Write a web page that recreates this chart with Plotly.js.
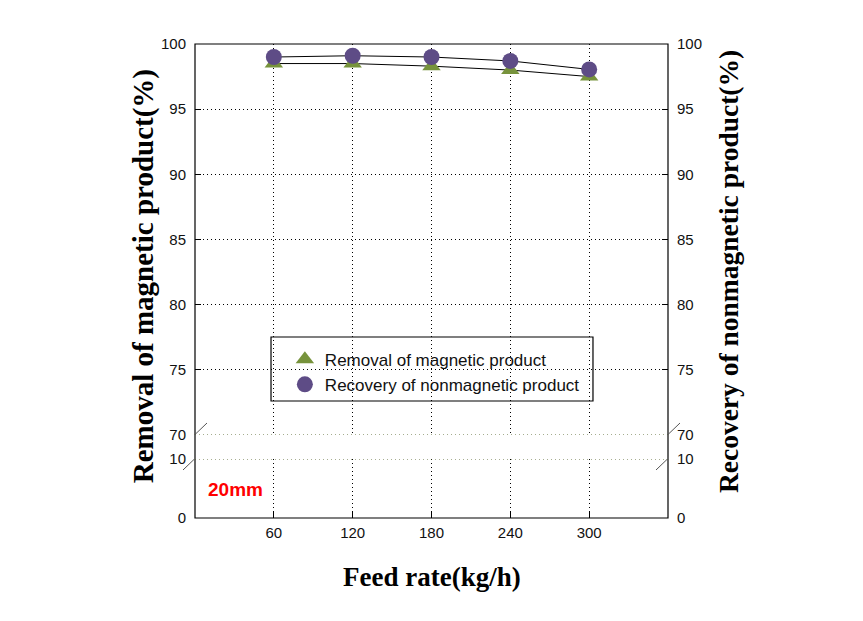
<!DOCTYPE html>
<html>
<head>
<meta charset="utf-8">
<script src="https://cdn.plot.ly/plotly-3.0.1.min.js"></script>
<style>html,body{margin:0;padding:0;background:#fff;}#chart{width:863px;height:621px;}</style>
</head>
<body>
<div id="chart"></div>
<script>
// Data
const feedRate = [60, 120, 180, 240, 300];
const removalMagnetic = [98.5, 98.5, 98.3, 98.0, 97.5];
const recoveryNonmagnetic = [99.0, 99.1, 99.0, 98.7, 98.05];
const xTicks = [60, 120, 180, 240, 300];
const yTopTicks = [70, 75, 80, 85, 90, 95, 100];
const yBottomTicks = [0, 10];
const seriesNames = ['Removal of magnetic product', 'Recovery of nonmagnetic product'];

const tickFont = {family: 'Liberation Sans, Arial, sans-serif', size: 15, color: '#111'};
const serif = 'Liberation Serif, Times New Roman, serif';
const green = '#77933C', purple = '#5E4C86';

const traces = [
  {x: feedRate, y: removalMagnetic, xaxis: 'x', yaxis: 'y', mode: 'lines',
   line: {color: '#000', width: 1}, showlegend: false, hoverinfo: 'skip'},
  {x: feedRate, y: recoveryNonmagnetic, xaxis: 'x', yaxis: 'y', mode: 'lines',
   line: {color: '#000', width: 1}, showlegend: false, hoverinfo: 'skip'},
  {x: feedRate, y: removalMagnetic, xaxis: 'x', yaxis: 'y', mode: 'markers', name: seriesNames[0],
   marker: {symbol: 'triangle-up', size: 16, color: green}},
  {x: feedRate, y: recoveryNonmagnetic, xaxis: 'x', yaxis: 'y', mode: 'markers', name: seriesNames[1],
   marker: {symbol: 'circle', size: 16, color: purple}},
  {x: [], y: [], xaxis: 'x', yaxis: 'y2', mode: 'markers', showlegend: false},
  {x: [], y: [], xaxis: 'x', yaxis: 'y3', mode: 'markers', showlegend: false},
  {x: [], y: [], xaxis: 'x', yaxis: 'y4', mode: 'markers', showlegend: false}
];

const topDom = [0.1751, 1], botDom = [0, 0.1245];
const dotDash = '1px,3px';
const yCommon = {showline: false, zeroline: false, tickfont: tickFont, ticks: 'inside', ticklen: 6,
  tickwidth: 1, tickcolor: '#000', ticklabelstandoff: 8, fixedrange: true};

const layout = {
  width: 863, height: 621,
  margin: {l: 195, r: 195, t: 44, b: 103, pad: 0},
  paper_bgcolor: '#fff', plot_bgcolor: '#fff',
  showlegend: true,
  legend: {x: 0.19, y: 0.372, xanchor: 'left', yanchor: 'top', bgcolor: 'rgba(0,0,0,0)',
    borderwidth: 0, font: {family: 'Liberation Sans, Arial, sans-serif', size: 17, color: '#111'},
    traceorder: 'normal'},
  xaxis: {anchor: 'y2', range: [0, 360], tickvals: xTicks, ticks: 'inside', ticklen: 6,
    tickcolor: '#000', showline: false, zeroline: false, showgrid: true, gridcolor: '#000',
    griddash: dotDash, gridwidth: 1, tickfont: tickFont, ticklabelstandoff: 4, fixedrange: true},
  yaxis: Object.assign({}, yCommon, {domain: topDom, range: [70, 100], tickvals: yTopTicks,
    showgrid: true, gridcolor: '#000', griddash: dotDash, anchor: 'x'}),
  yaxis2: Object.assign({}, yCommon, {domain: botDom, range: [0, 10], tickvals: yBottomTicks,
    showgrid: true, gridcolor: '#000', griddash: dotDash, anchor: 'x'}),
  yaxis3: Object.assign({}, yCommon, {domain: topDom, range: [70, 100], tickvals: yTopTicks,
    side: 'right', overlaying: 'y', showgrid: false, anchor: 'x'}),
  yaxis4: Object.assign({}, yCommon, {domain: botDom, range: [0, 10], tickvals: yBottomTicks,
    side: 'right', overlaying: 'y2', showgrid: false, anchor: 'x'}),
  shapes: [
    // frame
    {type: 'rect', xref: 'paper', yref: 'paper', x0: 0, x1: 1, y0: 0, y1: 1,
     line: {color: '#000', width: 1.2}},
    // break lines (dotted olive)
    {type: 'line', xref: 'paper', yref: 'y', x0: 0, x1: 1, y0: 70, y1: 70,
     line: {color: '#4B5A1E', width: 1, dash: dotDash}},
    {type: 'line', xref: 'paper', yref: 'y2', x0: 0, x1: 1, y0: 10, y1: 10,
     line: {color: '#4B5A1E', width: 1, dash: dotDash}},
    // legend box
    {type: 'rect', xref: 'paper', yref: 'paper', x0: 0.1607, x1: 0.8414, y0: 0.2468, y1: 0.3819,
     line: {color: '#000', width: 1.2}},
    // break marks
    ...[[0, 'y', 70], [0, 'y2', 10], [1, 'y', 70], [1, 'y2', 10]].map(([xp, yr, yv]) => ({
      type: 'line', xref: 'paper', xsizemode: 'pixel', xanchor: xp, x0: -12, x1: 12,
      yref: yr, ysizemode: 'pixel', yanchor: yv, y0: -11, y1: 12,
      line: {color: '#555', width: 1}}))
  ],
  annotations: [
    {text: '<b>Feed rate(kg/h)</b>', xref: 'paper', yref: 'paper', x: 0.5, y: -0.125,
     xanchor: 'center', yanchor: 'middle', showarrow: false, font: {family: serif, size: 27, color: '#000'}},
    {text: '<b>Removal of magnetic product(%)</b>', xref: 'paper', yref: 'paper', x: -0.11, y: 0.51,
     xanchor: 'center', yanchor: 'middle', textangle: -90, showarrow: false, font: {family: serif, size: 29, color: '#000'}},
    {text: '<b>Recovery of nonmagnetic product(%)</b>', xref: 'paper', yref: 'paper', x: 1.128, y: 0.52,
     xanchor: 'center', yanchor: 'middle', textangle: -90, showarrow: false, font: {family: serif, size: 27.5, color: '#000'}},
    {text: '<b>20mm</b>', xref: 'paper', yref: 'paper', x: 0.085, y: 0.06,
     xanchor: 'center', yanchor: 'middle', showarrow: false,
     font: {family: 'Liberation Sans, Arial, sans-serif', size: 19, color: '#FF0000'}}
  ]
};

Plotly.newPlot('chart', traces, layout, {displayModeBar: false, staticPlot: true});
</script>
</body>
</html>
